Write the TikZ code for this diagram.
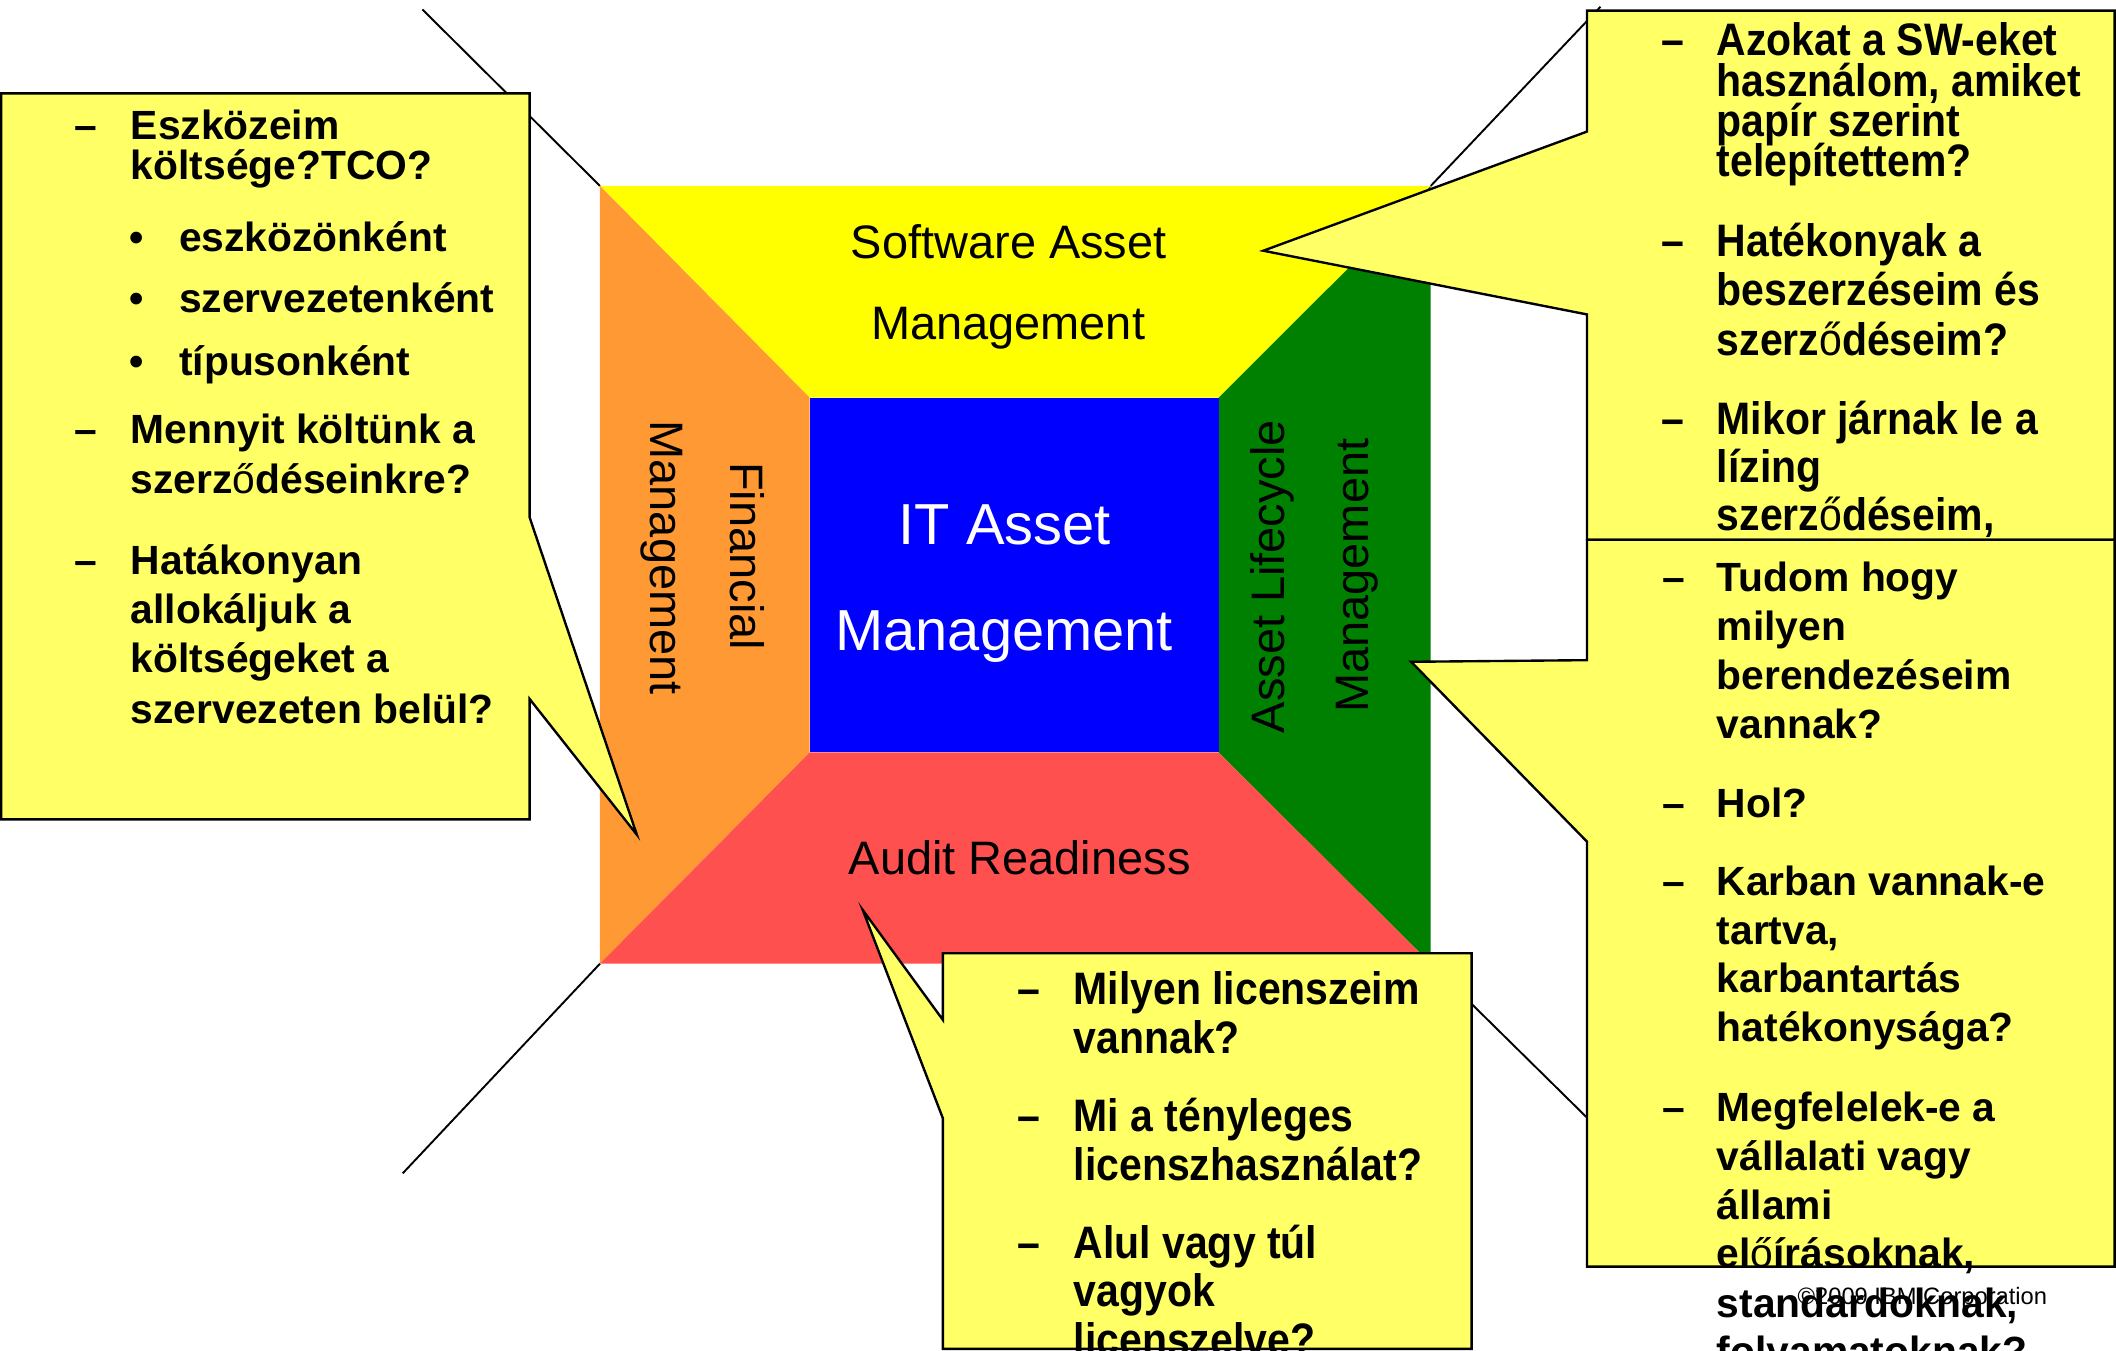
\documentclass[tikz,border=0pt]{standalone}
\usepackage{fontspec}
\setmainfont{Liberation Sans}
\newfontfamily\narrowfont[FakeStretch=0.9]{Liberation Sans}
\definecolor{samyellow}{HTML}{FFFF00}
\definecolor{finorange}{HTML}{FF9933}
\definecolor{itblue}{HTML}{0000FF}
\definecolor{alcgreen}{HTML}{008000}
\definecolor{auditred}{HTML}{FF5050}
\definecolor{bubble}{HTML}{FFFF66}
\newcommand{\odbl}{{\mdseries ő}}

\begin{document}
\begin{tikzpicture}[x=0.1mm,y=-0.1mm,
    field/.style={anchor=base,inner sep=0pt,font=\fontsize{9.9}{12}\selectfont},
    callout/.style={draw=black,line width=0.5pt,fill=bubble},
    quest/.style={anchor=base west,inner sep=0pt,font=\bfseries\fontsize{8.6}{10}\selectfont},
    questn/.style={anchor=base west,inner sep=0pt,font=\narrowfont\bfseries\fontsize{9.6}{11}\selectfont},
    qdash/.style={quest,anchor=base},
    qdashn/.style={questn,anchor=base}]
  \clip (0,0) rectangle (1568,1001);
  % corners of the frame
  \coordinate (otl) at (444.6,137.8);
  \coordinate (otr) at (1060.2,137.8);
  \coordinate (obr) at (1060.2,714.1);
  \coordinate (obl) at (444.6,714.1);
  \coordinate (itl) at (600,294.7);
  \coordinate (itr) at (903,294.7);
  \coordinate (ibr) at (903,557.6);
  \coordinate (ibl) at (600,557.6);
  \coordinate (etl) at (313,7);
  \coordinate (etr) at (1186,5);
  \coordinate (ebl) at (298.4,869.5);
  \coordinate (ebr) at (1190,842);
  % perspective lines
  \draw[line width=0.4pt] (otl) -- (etl);
  \draw[line width=0.4pt] (otr) -- (etr);
  \draw[line width=0.4pt] (obl) -- (ebl);
  \draw[line width=0.4pt] (obr) -- (ebr);
  % the frame
  \fill[samyellow] (otl) -- (otr) -- (itr) -- (itl) -- cycle;
  \fill[finorange] (otl) -- (itl) -- (ibl) -- (obl) -- cycle;
  \fill[alcgreen] (otr) -- (obr) -- (ibr) -- (itr) -- cycle;
  \fill[auditred] (obl) -- (ibl) -- (ibr) -- (obr) -- cycle;
  \fill[itblue] (itl) rectangle (ibr);
  \node[field] (sam1) at (747.5,191.6) {Software Asset};
  \node[field] (sam2) at (747,251.6) {Management};
  \node[field,text=white,font=\fontsize{12.2}{14}\selectfont] (ita1) at (744.6,403.4) {IT Asset};
  \node[field,text=white,font=\fontsize{12.2}{14}\selectfont] (ita2) at (744.1,481.9) {Management};
  \node[field] (aud) at (755.6,647.8) {Audit Readiness};
  \node[field,rotate=-90] (fin1) at (541.2,412.2) {Financial};
  \node[field,rotate=-90] (fin2) at (481.7,413.2) {Management};
  \node[field,rotate=90] (alc1) at (952,427.3) {Asset Lifecycle};
  \node[field,rotate=90] (alc2) at (1014,426.6) {Management};

  % financial callout
  \draw[callout] (0.8,69.2) -- (392.5,69.2) -- (392.5,383.5) -- (471.9,618.5)
    -- (392.5,518) -- (392.5,607.2) -- (0.8,607.2) -- cycle;
  \foreach \y [count=\i] in {103.7,329,425.7}
    \node[qdash] (fd\i) at (63.7,\y) {–};
  \foreach \y/\t [count=\i] in {103.7/Eszközeim, 132.9/költsége?TCO?,
      329/Mennyit költünk a, 365.5/szerz\odbl{}déseinkre?, 425.7/Hatákonyan,
      462/allokáljuk a, 498/költségeket a, 536/szervezeten belül?}
    \node[quest] (ft\i) at (96.3,\y) {\t};
  \foreach \y/\t [count=\i] in {186.5/eszközönként, 231.7/szervezetenként, 277.9/típusonként}{
    \node[qdash] (fb\i) at (101.3,\y) {•};
    \node[quest] (fs\i) at (132.1,\y) {\t};
  }

  % software callout
  \draw[callout] (1176,7.9) -- (1567,7.9) -- (1567,400) -- (1176,400) -- (1176,233)
    -- (936.1,185.8) -- (1176,97.5) -- cycle;
  \foreach \y [count=\i] in {40.8,190.2,321.8}
    \node[qdashn] (sd\i) at (1240,\y) {–};
  \foreach \y/\t [count=\i] in {40.8/Azokat a SW-eket, 71.6/{használom, amiket},
      101.3/papír szerint, 130.9/telepítettem?, 190.2/Hatékonyak a,
      226.4/beszerzéseim és, 263.5/szerz\odbl{}déseim?, 321.8/Mikor járnak le a,
      357.5/lízing, 393.3/{szerz\odbl{}déseim,}}
    \node[questn] (st\i) at (1271.5,\y) {\t};

  % lifecycle callout
  \draw[callout] (1176,400) -- (1567,400) -- (1567,938.6) -- (1176,938.6) -- (1176,623.7)
    -- (1045.7,490.4) -- (1176,489.2) -- cycle;
  \foreach \y [count=\i] in {438.2,605.7,663.7,831.2}
    \node[qdash] (ld\i) at (1240,\y) {–};
  \foreach \y/\t [count=\i] in {438.2/Tudom hogy, 474.7/milyen, 510.8/berendezéseim,
      546.9/vannak?, 605.7/Hol?, 663.7/Karban vannak-e, 699.8/{tartva,},
      735.5/karbantartás, 771.6/hatékonysága?, 831.2/Megfelelek-e a,
      867.5/vállalati vagy, 903.5/állami, 939/{el\odbl{}írásoknak,},
      976/{standardoknak,}, 1012/folyamatoknak?}
    \node[quest] (lt\i) at (1271.5,\y) {\t};

  % audit callout
  \draw[callout] (698.7,706.4) -- (1090.5,706.4) -- (1090.5,999.5) -- (698.7,999.5)
    -- (698.7,828.7) -- (639.3,674.3) -- (698.7,755.8) -- cycle;
  \foreach \y [count=\i] in {744.7,838.6,932.5}
    \node[qdashn] (ad\i) at (762.6,\y) {–};
  \foreach \y/\t [count=\i] in {744.7/Milyen licenszeim, 780.5/vannak?,
      838.6/Mi a tényleges, 874.9/licenszhasználat?, 932.5/Alul vagy túl,
      968.5/vagyok, 1004.5/licenszelve?}
    \node[questn] (at\i) at (794.9,\y) {\t};

  \node[anchor=base west,inner sep=0pt,font=\fontsize{5}{6}\selectfont] (copy) at (1331.4,966.3) {©2009 IBM Corporation};
\end{tikzpicture}
\end{document}
